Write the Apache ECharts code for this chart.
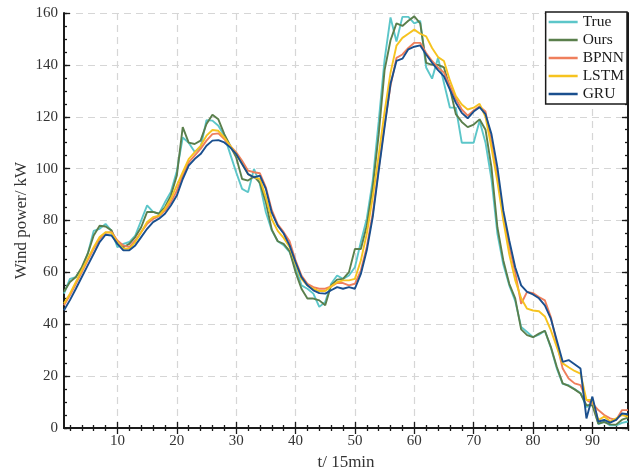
<!DOCTYPE html>
<html lang="en">
  <head>
    <meta charset="utf-8" />
    <script type="text/javascript" src="https://cdn.jsdelivr.net/npm/echarts@6/dist/echarts.min.js"></script>
    <title>Wind power forecast</title>
    <style>
      html, body { margin: 0; padding: 0; background: #fff; }
      #chart { width: 634px; height: 472px; }
    </style>
  </head>
  <body>
    <div id="chart"></div>
    <script>
      // time steps, one per 15 min
      var steps = []
      for (var i = 1; i <= 96; i++) steps.push(i)

      var trueVals = [51.8, 57.5, 58.2, 61.4, 67.2, 76, 76.8, 78.7, 76, 69.7, 71, 71.7, 74.2, 80, 85.8, 83.3, 82.6, 87, 91, 99,
        112, 110, 106.5, 108, 118.7, 118.5, 116.5, 112.7, 105.6, 98.6, 92.2, 90.9, 99.9, 94, 83.2, 76.2, 72, 70.5, 67.8, 62,
        55, 53.7, 51.8, 46.7, 48.6, 55.6, 58.8, 57.5, 58.8, 62, 71.7, 80.7, 95.4, 118, 142, 158.3, 149, 158.5, 158.5, 156,
        157, 139, 134.7, 142.7, 133, 123.5, 123.5, 110, 110, 110, 118.5, 110, 96, 75, 63, 55, 49, 39, 37, 35,
        36, 37.5, 31, 23, 17, 16.5, 15, 13.5, 8, 10, 1.5, 2.5, 1, 1, 2, 2.5]
      var oursVals = [52.5, 56.3, 58.2, 62, 67.2, 74.2, 78, 77.7, 76.2, 71, 69.7, 71, 73.6, 77.4, 83.3, 83.3, 82.6, 85.1, 89.6, 97.3,
        116, 110, 109.5, 110.8, 117.2, 120.8, 119, 113.3, 108.8, 104.4, 96, 95.4, 97, 94.5, 87, 76.5, 72, 71, 68.2, 60.1,
        53.7, 49.9, 49.9, 49.2, 47.3, 55, 57.2, 57.5, 60.1, 69, 69, 78, 92.8, 113, 138, 149.5, 156, 155, 157, 158.7,
        156, 140.8, 140, 140, 139, 131, 121, 118, 116, 117, 119, 115, 100.5, 77.4, 64.6, 55.6, 50, 38, 35.8, 35,
        36.4, 37.5, 31.3, 23.6, 17.2, 16.2, 14.9, 13.3, 8.8, 8.8, 1.7, 2.3, 1.4, 1.3, 3.2, 4]
      var bpnnVals = [47.3, 51.2, 55.6, 60.1, 64.6, 69.1, 72.9, 75.3, 75.5, 72.3, 70.4, 69.7, 72.3, 75.5, 78.7, 80.6, 81.7, 83.8, 87, 91.5,
        97.3, 102.4, 105, 107.6, 110.8, 113.3, 113.6, 111.4, 108.8, 106.3, 103, 99.2, 98.6, 98.2, 92.8, 84, 78.5, 75.5, 72, 64.6,
        58.8, 55.6, 54.3, 53.7, 53.7, 54.6, 55.9, 55.9, 55, 55.6, 60.7, 69.8, 82.6, 100, 117, 132, 142.7, 144, 146.5, 148.5,
        148.5, 144.6, 141.5, 139, 137, 132, 127, 122.8, 120.4, 122.4, 124, 122, 110, 97, 82, 70, 60, 47.9, 52.5, 52,
        50.5, 49.2, 42.8, 32.6, 22.9, 19.1, 17.2, 16.5, 10.8, 9.5, 6.9, 5, 3.7, 3.1, 6.9, 6.9]
      var lstmVals = [48, 51.8, 56.3, 60.8, 65.3, 69.7, 73.6, 75.5, 75.3, 71.7, 69.1, 69.1, 71.7, 75.5, 79.4, 81.3, 81.9, 84.5, 88.3, 93.5,
        98.6, 103.7, 106.3, 108.8, 112.7, 114.9, 114.6, 112, 108.8, 105.6, 101.8, 97.9, 96.6, 96, 89, 80.5, 76, 73.3, 69.8, 63.3,
        57.5, 55, 53.7, 52.8, 52.8, 54.6, 56.2, 56.9, 56.9, 57.5, 64.6, 74.9, 89, 105, 122, 137, 147.4, 150.4, 152, 153.6,
        152, 151, 146.5, 143, 141.5, 134, 128, 124.7, 122.8, 123.5, 125, 120, 108, 95, 80, 67, 57, 50, 46, 45.3,
        45, 43, 37.7, 31.3, 24.9, 23.4, 22, 21, 10.8, 10.8, 3.1, 4.4, 2.5, 3.7, 5, 4.4]
      var gruVals = [45.4, 49.3, 53.7, 58.2, 62.7, 67.2, 71.7, 74.5, 74.2, 71, 68.5, 68.5, 70.4, 73.6, 76.8, 79.4, 80.7, 82.6, 85.8, 89.6,
        96, 101.2, 103.7, 105.6, 108.8, 110.8, 111, 110.1, 108.2, 105.6, 101.8, 97.9, 96.6, 97.3, 92.2, 83, 78, 75, 70.4, 64,
        58.2, 55, 53.1, 52, 51.8, 53.1, 54.3, 53.7, 54.3, 53.7, 59.4, 68.5, 81.3, 99, 116, 132.7, 141.5, 142.4, 146, 147,
        147.5, 144, 140.8, 138, 135.6, 130.5, 125.4, 121.5, 119.4, 122, 123.7, 121, 113.3, 100.5, 83.8, 72.3, 62, 55, 52.5, 51.5,
        50, 47.3, 42.2, 33.8, 25.5, 26.2, 24.6, 22.9, 3.7, 12.1, 2.5, 3.1, 2.1, 3.1, 5.6, 5.3]

      var seriesNames = ['True', 'Ours', 'BPNN', 'LSTM', 'GRU']
      var seriesColors = ['#5cc6c9', '#5a7f4c', '#ef7f5c', '#f6c31f', '#1a4f8e']
      var xMajor = [10, 20, 30, 40, 50, 60, 70, 80, 90]

      window.onload = function () {
        var chart = echarts.init(document.getElementById('chart'), null, { renderer: 'canvas' })
        var font = 'Liberation Serif'
        var frame = { color: '#1a1a1a', width: 2 }
        var tickStyle = { color: '#1a1a1a', width: 1.3 }
        var xMinor = []
        for (var k = 2; k <= 96; k += 2) if (k % 10 !== 0) xMinor.push(k)

        // helper for the extra tick-only axes
        function tickAxis (pos, vals, len, isX) {
          var ax = {
            type: 'value', position: pos, min: isX ? 1 : 0, max: isX ? 96 : 160,
            axisLine: { show: false }, axisLabel: { show: false }, splitLine: { show: false },
            axisTick: { show: true, inside: true, length: len, lineStyle: tickStyle }
          }
          if (isX) {
            ax.axisTick.customValues = vals
            ax.axisLabel.customValues = vals
          } else {
            ax.interval = vals
          }
          return ax
        }

        var lineData = [trueVals, oursVals, bpnnVals, lstmVals, gruVals]
        var series = lineData.map(function (vals, n) {
          return {
            name: seriesNames[n], type: 'line', xAxisIndex: 0, yAxisIndex: 0,
            symbol: 'none', smooth: false,
            lineStyle: { width: 1.9, color: seriesColors[n] },
            itemStyle: { color: seriesColors[n] },
            data: vals.map(function (v, j) { return [steps[j], v] })
          }
        })

        var gridLine = { show: true, lineStyle: { color: '#d6d6d6', type: [7, 5], width: 1.2 } }

        chart.setOption({
          animation: false,
          backgroundColor: '#fff',
          grid: { left: 64, right: 6, top: 13, bottom: 44, containLabel: false, outerBoundsMode: 'none' },
          legend: {
            orient: 'vertical', right: 7, top: 12,
            data: seriesNames,
            icon: 'rect', itemWidth: 29, itemHeight: 2.5, itemGap: 2,
            backgroundColor: '#fff', borderColor: '#1a1a1a', borderWidth: 1.5,
            padding: [2, 3, 2, 3],
            textStyle: { fontFamily: font, fontSize: 15.5, color: '#1a1a1a' }
          },
          xAxis: [
            {
              type: 'value', position: 'bottom', min: 1, max: 96,
              name: 't/ 15min', nameLocation: 'middle', nameGap: 26, nameMoveOverlap: false,
              nameTextStyle: { fontFamily: font, fontSize: 17, color: '#333' },
              axisLine: { show: true, lineStyle: frame },
              axisTick: { show: true, inside: true, length: 6, customValues: xMajor, lineStyle: tickStyle },
              axisLabel: { customValues: xMajor, fontFamily: font, fontSize: 15, color: '#333', margin: 6 },
              splitLine: gridLine
            },
            tickAxis('bottom', xMinor, 3, true),
            {
              type: 'value', position: 'top', min: 1, max: 96,
              axisLine: { show: true, lineStyle: frame },
              axisTick: { show: true, inside: true, length: 6, customValues: xMajor, lineStyle: tickStyle },
              axisLabel: { show: false, customValues: xMajor },
              splitLine: { show: false }
            },
            tickAxis('top', xMinor, 3, true)
          ],
          yAxis: [
            {
              type: 'value', position: 'left', min: 0, max: 160, interval: 20,
              name: 'Wind power/ kW', nameLocation: 'middle', nameGap: 42, nameRotate: 90, nameMoveOverlap: false,
              nameTextStyle: { fontFamily: font, fontSize: 17, color: '#333', verticalAlign: 'middle' },
              axisLine: { show: true, lineStyle: frame },
              axisTick: { show: true, inside: true, length: 6, lineStyle: tickStyle },
              axisLabel: { fontFamily: font, fontSize: 15, color: '#333', margin: 6 },
              splitLine: gridLine
            },
            tickAxis('left', 5, 3, false),
            {
              type: 'value', position: 'right', min: 0, max: 160, interval: 20,
              axisLine: { show: true, lineStyle: frame },
              axisTick: { show: true, inside: true, length: 6, lineStyle: tickStyle },
              axisLabel: { show: false }, splitLine: { show: false }
            },
            tickAxis('right', 5, 3, false)
          ],
          series: series
        })
      }
    </script>
  </body>
</html>
